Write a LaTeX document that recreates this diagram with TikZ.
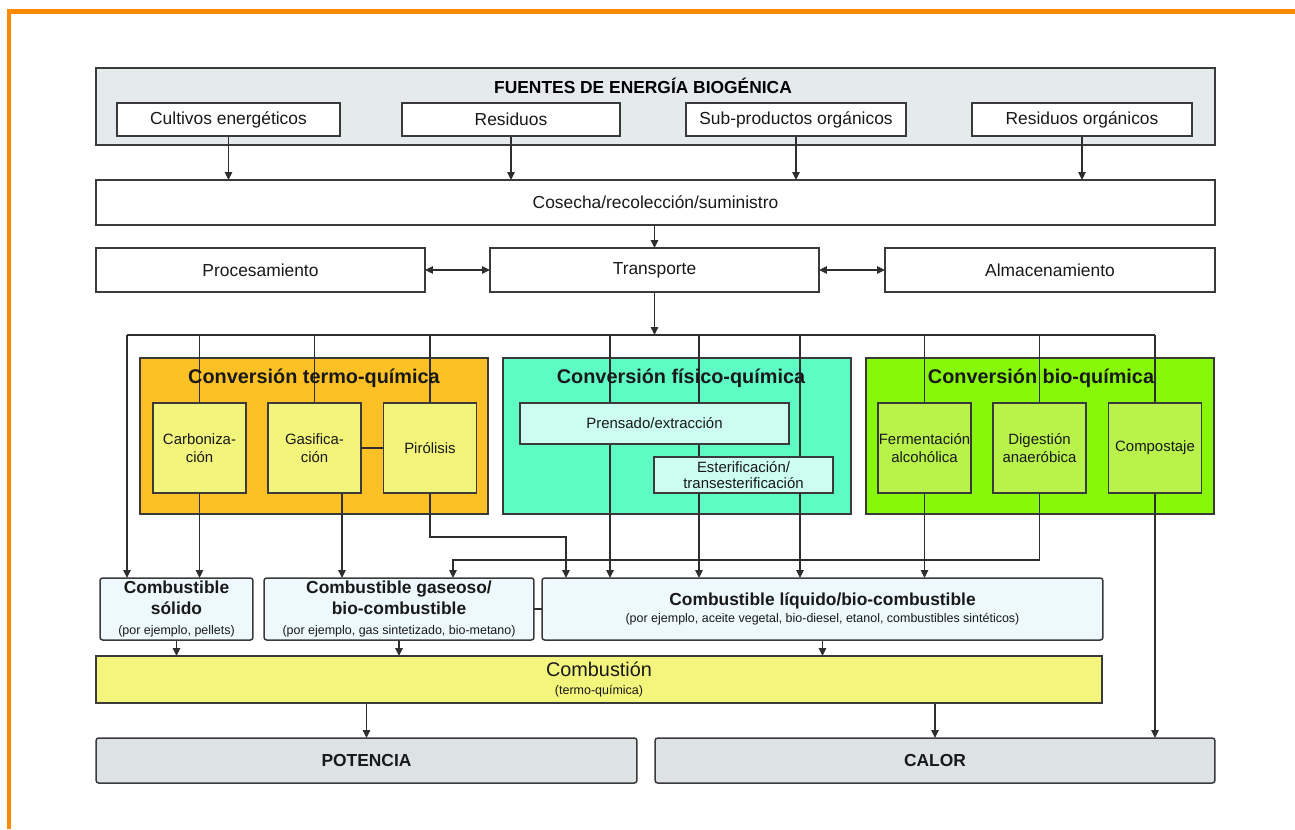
\documentclass[tikz,border=0pt]{standalone}
\usepackage{fontspec}
\setmainfont{Liberation Sans}
\usepackage{xcolor}
\usepackage{tikz}
\usetikzlibrary{arrows.meta, positioning, calc}

\definecolor{frameorange}{HTML}{FF8A00}
\definecolor{boxline}{HTML}{3A3A3A}
\definecolor{wireline}{HTML}{2E2E2E}
\definecolor{srcgrey}{HTML}{E5EAED}
\definecolor{outgrey}{HTML}{DDE2E4}
\definecolor{termofill}{HTML}{FDC126}
\definecolor{termosub}{HTML}{F3F47C}
\definecolor{fisicofill}{HTML}{5EFCC4}
\definecolor{fisicosub}{HTML}{CCFDF0}
\definecolor{biofill}{HTML}{88F80A}
\definecolor{biosub}{HTML}{B8F24A}
\definecolor{fuelfill}{HTML}{EEF9FD}
\definecolor{combfill}{HTML}{F3F57D}

\newcommand{\fnorm}{\fontsize{9.9}{11.9}\selectfont}
\newcommand{\fbig}{\fontsize{11.3}{13}\selectfont}
\newcommand{\fsub}{\fontsize{8.5}{10.2}\selectfont}
\newcommand{\fsmall}{\fontsize{7.1}{8.5}\selectfont}

\pgfdeclarelayer{groups}
\pgfdeclarelayer{wires}
\pgfsetlayers{groups,wires,main}

\tikzset{
    box/.style={draw=boxline, line width=0.85pt, inner sep=0pt, outer sep=0pt,
        align=center, fill=white, text=black!90, font=\fnorm},
    srcbox/.style={box, minimum height=0.66cm},
    rowbox/.style={box, minimum height=0.88cm},
    grpbox/.style={box, minimum width=6.96cm, minimum height=3.12cm},
    grptitle/.style={font=\fbig\bfseries, text=black!90},
    subbox/.style={box, font=\fsub, minimum width=1.86cm, minimum height=1.80cm},
    fuelbox/.style={box, fill=fuelfill, rounded corners=1.5pt, minimum height=1.24cm},
    outbox/.style={box, fill=outgrey, rounded corners=1.5pt, minimum height=0.90cm, font=\fnorm\bfseries},
    wire/.style={draw=wireline, line width=0.85pt},
    arr/.style={wire, -{Triangle[length=4.5pt, width=4.2pt]}},
    darr/.style={wire, {Triangle[length=4.5pt, width=4.2pt]}-{Triangle[length=4.5pt, width=4.2pt]}},
}

\begin{document}
\begin{tikzpicture}[x=0.02cm, y=-0.02cm]
    \useasboundingbox (0,0) rectangle (1295,829);
    % marco
    \draw[frameorange, line width=2.7pt] (1295,11.5) -- (9,11.5) -- (9,829);

    % fuentes de energia
    \begin{pgfonlayer}{groups}
        \node[box, fill=srcgrey, minimum width=22.38cm, minimum height=1.54cm] (fuentes) at (655.5,106.5) {};
    \end{pgfonlayer}
    \node[font=\fnorm\bfseries] (fuentestit) at (643,86) {FUENTES DE ENERGÍA BIOGÉNICA};
    \node[srcbox, minimum width=4.46cm] (cultivos) at (228.5,119.5) {Cultivos energéticos};
    \node[srcbox, minimum width=4.36cm] (residuos) at (511,119.5) {Residuos};
    \node[srcbox, minimum width=4.40cm] (subprod) at (796,119.5) {Sub-productos orgánicos};
    \node[srcbox, minimum width=4.40cm] (resorg) at (1082,119.5) {Residuos orgánicos};

    % cosecha y logistica
    \node[box, minimum width=22.38cm, minimum height=0.90cm] (cosecha) at (655.5,202.5) {Cosecha/recolección/suministro};
    \node[rowbox, minimum width=6.58cm] (proces) at (260.5,270) {Procesamiento};
    \node[rowbox, minimum width=6.58cm] (transp) at (654.5,270) {Transporte};
    \node[rowbox, minimum width=6.60cm] (almac) at (1050,270) {Almacenamiento};

    % conversiones
    \begin{pgfonlayer}{groups}
        \node[grpbox, fill=termofill] (termo) at (314,436) {};
        \node[grpbox, fill=fisicofill] (fisico) at (677,436) {};
        \node[grpbox, fill=biofill] (bio) at (1040,436) {};
    \end{pgfonlayer}
    \node[grptitle] (termotit) at (314,378) {Conversión termo-química};
    \node[grptitle] (fisicotit) at (681,378) {Conversión físico-química};
    \node[grptitle] (biotit) at (1041,378) {Conversión bio-química};

    \node[subbox, fill=termosub] (carbon) at (199.5,448) {Carboniza-\\ción};
    \node[subbox, fill=termosub] (gasif) at (314.5,448) {Gasifica-\\ción};
    \node[subbox, fill=termosub] (pirol) at (430,448) {Pirólisis};
    \node[box, font=\fsub, fill=fisicosub, minimum width=5.38cm, minimum height=0.82cm] (prensa) at (654.5,423.5) {Prensado/extracción};
    \node[box, font=\fsub, fill=fisicosub, minimum width=3.58cm, minimum height=0.72cm] (ester) at (743.5,475) {Esterificación/\\[-1pt]transesterificación};
    \node[subbox, fill=biosub] (ferment) at (924.5,448) {Fermentación\\alcohólica};
    \node[subbox, fill=biosub] (digest) at (1039.5,448) {Digestión\\anaeróbica};
    \node[subbox, fill=biosub] (compost) at (1155,448) {Compostaje};

    % combustibles
    \node[fuelbox, minimum width=3.06cm] (solido) at (176.5,609)
        {\textbf{Combustible}\\\textbf{sólido}\\[-1pt]{\fsmall (por ejemplo, pellets)}};
    \node[fuelbox, minimum width=5.40cm] (gaseoso) at (399,609)
        {\textbf{Combustible gaseoso/}\\\textbf{bio-combustible}\\[-1pt]{\fsmall (por ejemplo, gas sintetizado, bio-metano)}};
    \node[fuelbox, minimum width=11.22cm] (liquido) at (822.5,609)
        {\textbf{Combustible líquido/bio-combustible}\\[-2pt]{\fsmall (por ejemplo, aceite vegetal, bio-diesel, etanol, combustibles sintéticos)}};

    % combustion y salidas
    \node[box, fill=combfill, font=\fbig, minimum width=20.12cm, minimum height=0.94cm] (combus) at (599,679.5)
        {Combustión\\[-3pt]{\fsmall (termo-química)}};
    \node[outbox, minimum width=10.82cm] (potencia) at (366.5,760.5) {POTENCIA};
    \node[outbox, minimum width=11.20cm] (calor) at (935,760.5) {CALOR};

    % puntos de reparto
    \coordinate (hub) at (654.5,335);
    \coordinate (distL) at (127,335);
    \coordinate (distR) at (1155,335);
    \coordinate (pA) at (610,335);
    \coordinate (pB) at (699,335);
    \coordinate (pC) at (800,335);
    \coordinate (gask) at (342,493);
    \coordinate (pirk) at (566,537);
    \coordinate (digk) at (453,560);

    \begin{pgfonlayer}{wires}
        \foreach \src in {cultivos, residuos, subprod, resorg}
            \draw[arr] (\src.south) -- (\src.south |- cosecha.north);
        \draw[arr] (cosecha.south -| transp.north) -- (transp.north);
        \draw[darr] (proces.east) -- (transp.west);
        \draw[darr] (transp.east) -- (almac.west);
        \draw[arr] (transp.south) -- (hub);
        \draw[wire] (distL) -- (distR);
        \draw[arr] (distL) -- (distL |- solido.north);
        \foreach \sub in {carbon, gasif, pirol, ferment, digest, compost}
            \draw[wire] (\sub.north |- hub) -- (\sub.north);
        \draw[wire] (pA) -- (pA |- prensa.north);
        \draw[wire] (pB) -- (pB |- prensa.north);
        \draw[wire] (pC) -- (pC |- ester.north);
        \draw[wire] (pB |- prensa.south) -- (pB |- ester.north);
        \draw[wire, line width=1.4pt] (gasif.east) -- (pirol.west);

        % hacia los combustibles
        \draw[arr] (carbon.south) -- (carbon.south |- solido.north);
        \draw[arr] (gask) -- (gask |- gaseoso.north);
        \draw[arr] (pirol.south) |- (pirk) -- (pirk |- liquido.north);
        \draw[arr] (digest.south) |- (digk) -- (digk |- gaseoso.north);
        \draw[arr] (pA |- prensa.south) -- (pA |- liquido.north);
        \draw[arr] (pB |- ester.south) -- (pB |- liquido.north);
        \draw[arr] (pC |- ester.south) -- (pC |- liquido.north);
        \draw[arr] (ferment.south) -- (ferment.south |- liquido.north);
        \draw[wire] (gaseoso.east) -- (liquido.west);

        % combustion
        \foreach \fuel in {solido, gaseoso, liquido}
            \draw[arr] (\fuel.south) -- (\fuel.south |- combus.north);
        \draw[arr] (combus.south -| potencia.north) -- (potencia.north);
        \draw[arr] (combus.south -| calor.north) -- (calor.north);
        \draw[arr] (compost.south) -- (compost.south |- calor.north);
    \end{pgfonlayer}
\end{tikzpicture}
\end{document}
